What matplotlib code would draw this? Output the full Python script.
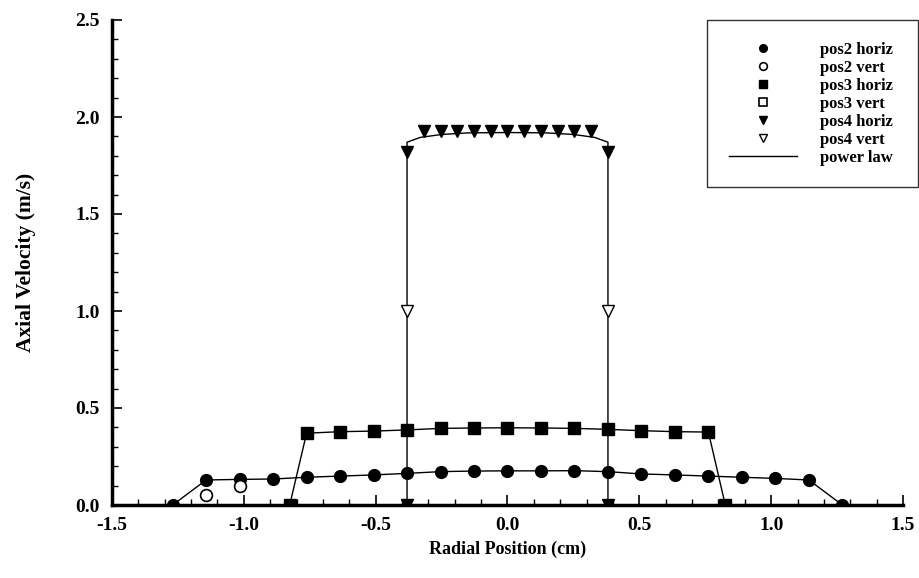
import matplotlib
matplotlib.use("Agg")
import matplotlib.pyplot as plt
from matplotlib.ticker import MultipleLocator

# radial stations (cm), 0.127 cm spacing
pos2_x = [-1.27, -1.143, -1.016, -0.889, -0.762, -0.635, -0.508, -0.381, -0.254, -0.127, 0.0,
          0.127, 0.254, 0.381, 0.508, 0.635, 0.762, 0.889, 1.016, 1.143, 1.27]
pos2_h = [0.0, 0.129, 0.132, 0.134, 0.143, 0.149, 0.155, 0.163, 0.172, 0.175, 0.176,
          0.176, 0.177, 0.172, 0.16, 0.155, 0.149, 0.143, 0.137, 0.129, 0.0]
pos2_vx = [-1.143, -1.016]
pos2_v = [0.052, 0.098]

pos3_x = [-0.826, -0.762, -0.635, -0.508, -0.381, -0.254, -0.127, 0.0,
          0.127, 0.254, 0.381, 0.508, 0.635, 0.762, 0.826]
pos3_h = [0.0, 0.37, 0.378, 0.381, 0.387, 0.395, 0.397, 0.398,
          0.397, 0.395, 0.39, 0.383, 0.378, 0.376, 0.0]
pos3_vx = []
pos3_v = []

pos4_x = [-0.381, -0.381, -0.3175, -0.254, -0.1905, -0.127, -0.0635, 0.0,
          0.0635, 0.127, 0.1905, 0.254, 0.3175, 0.381, 0.381]
pos4_h = [0.0, 1.82, 1.93, 1.93, 1.93, 1.93, 1.93, 1.93,
          1.93, 1.93, 1.93, 1.93, 1.93, 1.82, 0.0]
pos4_vx = [-0.381, 0.381]
pos4_v = [1.0, 1.0]

# power law fit for pos4 (jet core)
fit4_x = [-0.381, -0.381, -0.33, -0.25, -0.15, 0.0, 0.15, 0.25, 0.33, 0.381, 0.381]
fit4_y = [0.0, 1.87, 1.895, 1.91, 1.918, 1.92, 1.918, 1.91, 1.895, 1.87, 0.0]

plt.rcParams['font.family'] = ['Liberation Serif', 'DejaVu Serif']
plt.rcParams['font.weight'] = 'bold'

fig = plt.figure(figsize=(9.2, 5.78), dpi=100)
ax = fig.add_axes([112/920, 1 - 505/578, 791/920, 485/578])

lw = 1.0
ax.plot(pos2_x, pos2_h, '-', color='black', lw=lw)
ax.plot(pos3_x, pos3_h, '-', color='black', lw=lw)
ax.plot(fit4_x, fit4_y, '-', color='black', lw=lw)

ax.plot(pos2_x, pos2_h, 'o', color='black', ms=8.5, label='pos2 horiz')
ax.plot(pos2_vx, pos2_v, 'o', mfc='white', mec='black', mew=1.2, ms=8.5, label='pos2 vert')
ax.plot(pos3_x, pos3_h, 's', color='black', ms=8.5, label='pos3 horiz')
ax.plot(pos3_vx, pos3_v, 's', mfc='white', mec='black', mew=1.2, ms=8.5, label='pos3 vert')
ax.plot(pos4_x, pos4_h, 'v', color='black', ms=8, label='pos4 horiz')
ax.plot(pos4_vx, pos4_v, 'v', mfc='white', mec='black', mew=1.0, ms=8, label='pos4 vert')
ax.plot([], [], '-', color='black', lw=lw, label='power law')

ax.set_xlim(-1.5, 1.5)
ax.set_ylim(0, 2.5)
ax.xaxis.set_major_locator(MultipleLocator(0.5))
ax.xaxis.set_minor_locator(MultipleLocator(0.1))
ax.yaxis.set_major_locator(MultipleLocator(0.5))
ax.yaxis.set_minor_locator(MultipleLocator(0.1))
ax.xaxis.set_major_formatter(plt.FormatStrFormatter('%.1f'))
ax.yaxis.set_major_formatter(plt.FormatStrFormatter('%.1f'))

ax.spines['top'].set_visible(False)
ax.spines['right'].set_visible(False)
ax.spines['left'].set_linewidth(2.5)
ax.spines['bottom'].set_linewidth(2.5)
ax.tick_params(which='major', direction='in', length=7, width=1.2, labelsize=14, pad=9)
ax.tick_params(which='minor', direction='in', length=4, width=1.0)

ax.set_xlabel('Radial Position (cm)', fontsize=13, fontweight='bold')
ax.set_ylabel('Axial Velocity (m/s)', fontsize=15.5, fontweight='bold')
ax.xaxis.set_label_coords(0.5, -(541 - 505) / 485)
ax.yaxis.set_label_coords(-(112 - 36) / 791, 0.5)

leg = ax.legend(loc='upper left', bbox_to_anchor=(707/920, 1 - 188/578, 211/920, 168/578),
                bbox_transform=fig.transFigure, mode='expand', fontsize=12,
                frameon=True, fancybox=False, edgecolor='black', borderpad=1.3,
                labelspacing=0.12, handlelength=4.1, handletextpad=1.4,
                markerscale=0.65, borderaxespad=0)
leg.get_frame().set_linewidth(1.0)

fig.savefig('out.png', dpi=100)
